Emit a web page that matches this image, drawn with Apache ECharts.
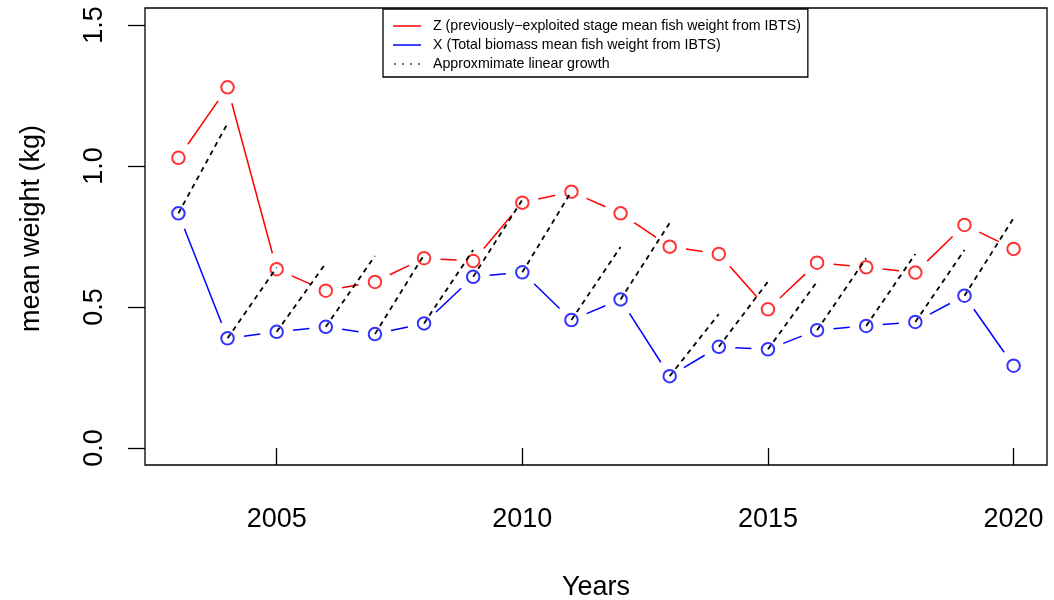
<!DOCTYPE html>
<html>
<head>
<meta charset="utf-8">
<script src="https://cdn.jsdelivr.net/npm/echarts@6/dist/echarts.min.js"></script>
<style>
html,body{margin:0;padding:0;background:#fff;}
#chart{width:1054px;height:600px;}
</style>
</head>
<body>
<div id="chart"></div>
<script>
// ---- data ----
const years = [2003,2004,2005,2006,2007,2008,2009,2010,2011,2012,2013,2014,2015,2016,2017,2018,2019,2020];
const zValues = [1.029,1.279,0.634,0.558,0.589,0.673,0.663,0.870,0.909,0.832,0.714,0.688,0.492,0.657,0.641,0.622,0.791,0.706];
const xValues = [0.832,0.389,0.412,0.430,0.404,0.442,0.607,0.623,0.454,0.527,0.255,0.359,0.350,0.418,0.433,0.447,0.540,0.292];
// value reached at year t+1 by linear growth from X at year t (t = 2003..2019)
const growthEnd = [1.151,0.640,0.655,0.681,0.685,0.702,0.880,0.910,0.713,0.798,0.475,0.590,0.590,0.673,0.688,0.702,0.815];
const xTicks = [2005,2010,2015,2020];
const yTicks = [0,0.5,1,1.5];

const nameZ = 'Z (previously\u2212exploited stage mean fish weight from IBTS)';
const nameX = 'X (Total biomass mean fish weight from IBTS)';
const nameG = 'Approxmimate linear growth';

const FONT = '"Liberation Sans", Arial, Helvetica, sans-serif';

function pairs(vals){
  const out = [];
  for (let i = 0; i < years.length - 1; i++) out.push([years[i], vals[i], years[i+1], vals[i+1]]);
  return out;
}
const growthPairs = years.slice(0,-1).map((y,i)=>[y, xValues[i], years[i+1], growthEnd[i]]);

function gapRender(color, gap, dash, width){
  return function(params, api){
    const p1 = api.coord([api.value(0), api.value(1)]);
    const p2 = api.coord([api.value(2), api.value(3)]);
    let x1=p1[0], y1=p1[1], x2=p2[0], y2=p2[1];
    if (gap > 0){
      const dx = x2-x1, dy = y2-y1, L = Math.sqrt(dx*dx+dy*dy);
      if (L <= 2*gap) return null;
      const ux = dx/L, uy = dy/L;
      x1 += ux*gap; y1 += uy*gap; x2 -= ux*gap; y2 -= uy*gap;
    }
    return {type:'line', shape:{x1:x1,y1:y1,x2:x2,y2:y2},
      style:{stroke:color, lineWidth:width || 1.5, lineDash: dash || null, fill:null}};
  };
}

const chart = echarts.init(document.getElementById('chart'), null, {renderer:'canvas'});
const option = {
  animation:false,
  backgroundColor:'#fff',
  textStyle:{fontFamily:FONT},
  grid:{left:145, right:7, top:8, bottom:135, containLabel:false, outerBoundsMode:'none',
    show:true, borderColor:'#000', borderWidth:1.3, backgroundColor:'transparent'},
  xAxis:{
    type:'value', min:2002.32, max:2020.68,
    name:'Years', nameLocation:'middle', nameGap:109,
    nameTextStyle:{fontSize:27, color:'#000', fontFamily:FONT},
    axisLine:{show:false},
    axisTick:{show:true, length:17, inside:false, customValues:xTicks, lineStyle:{color:'#000', width:1.3}},
    axisLabel:{show:true, customValues:xTicks, margin:41, fontSize:27, color:'#000', fontFamily:FONT,
      formatter:function(v){return String(v);}},
    splitLine:{show:false}
  },
  yAxis:{
    type:'value', min:-0.06, max:1.56,
    name:'mean weight (kg)', nameLocation:'middle', nameRotate:90, nameGap:100,
    nameTextStyle:{fontSize:27, color:'#000', fontFamily:FONT, padding:[0,0,0,16]},
    axisLine:{show:false},
    axisTick:{show:true, length:17, inside:false, customValues:yTicks, lineStyle:{color:'#000', width:1.3}},
    axisLabel:{show:true, customValues:yTicks, rotate:90, margin:37, fontSize:27, color:'#000', fontFamily:FONT,
      formatter:function(v){return v.toFixed(1);}},
    splitLine:{show:false}
  },
  legend:{
    orient:'vertical', left:383, top:9,
    backgroundColor:'#fff', borderColor:'#000', borderWidth:1.3,
    padding:[10,7,6,10], itemGap:5, itemWidth:28, itemHeight:1.5,
    textStyle:{fontSize:14.2, color:'#000', fontFamily:FONT, padding:[0,0,0,7]},
    selectedMode:false,
    data:[
      {name:nameZ, icon:'rect', itemStyle:{color:'#ff0000', borderWidth:0}},
      {name:nameX, icon:'rect', itemStyle:{color:'#0000ff', borderWidth:0}},
      {name:nameG, icon:'path://M0,0h1.5v1.5h-1.5z M8,0h1.5v1.5h-1.5z M16,0h1.5v1.5h-1.5z M24,0h1.5v1.5h-1.5z', itemStyle:{color:'#000', borderWidth:0}}
    ]
  },
  series:[
    {name:nameZ, type:'custom', renderItem:gapRender('#ff0000',16.5), data:pairs(zValues),
      encode:{x:[0,2], y:[1,3]}, silent:true, z:2},
    {name:nameZ, type:'scatter', data:years.map((y,i)=>[y,zValues[i]]), symbol:'emptyCircle', symbolSize:12.5,
      itemStyle:{color:'#ff0000', borderColor:'#ff0000', borderWidth:1.6}, silent:true, z:3},
    {name:nameX, type:'custom', renderItem:gapRender('#0000ff',16.5), data:pairs(xValues),
      encode:{x:[0,2], y:[1,3]}, silent:true, z:2},
    {name:nameX, type:'scatter', data:years.map((y,i)=>[y,xValues[i]]), symbol:'emptyCircle', symbolSize:12.5,
      itemStyle:{color:'#0000ff', borderColor:'#0000ff', borderWidth:1.6}, silent:true, z:3},
    {name:nameG, type:'custom', renderItem:gapRender('#000000',0,[5,4.5],1.8), data:growthPairs,
      encode:{x:[0,2], y:[1,3]}, silent:true, z:4}
  ]
};
chart.setOption(option);
</script>
</body>
</html>
